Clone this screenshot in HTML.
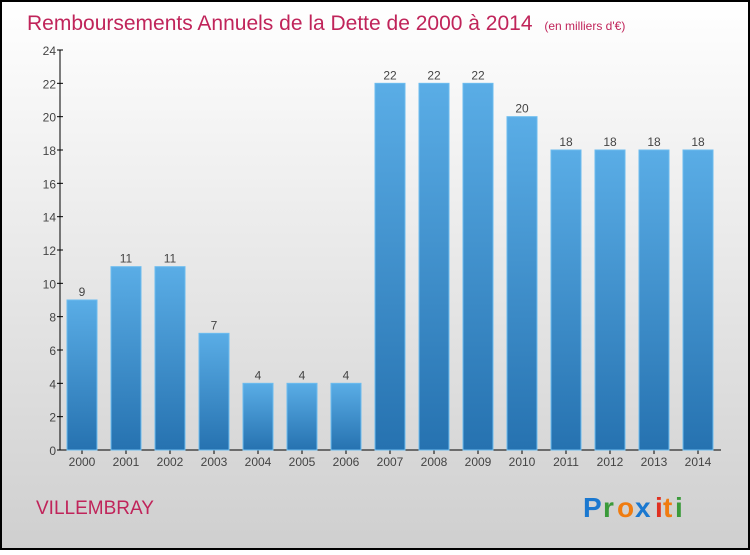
<!DOCTYPE html>
<html><head><meta charset="utf-8"><style>
body{margin:0}
svg text{font-family:"Liberation Sans",sans-serif}
</style></head><body>
<svg width="750" height="550" xmlns="http://www.w3.org/2000/svg">
<defs>
<linearGradient id="bg" x1="0" y1="0" x2="0" y2="1"><stop offset="0" stop-color="#ffffff"/><stop offset="1" stop-color="#cfcfcf"/></linearGradient>
<linearGradient id="bar" x1="0" y1="0" x2="0" y2="1"><stop offset="0" stop-color="#5aade6"/><stop offset="1" stop-color="#2672b0"/></linearGradient>
</defs>
<rect x="1" y="1" width="748" height="548" fill="url(#bg)" stroke="#000" stroke-width="2"/>
<text x="27" y="30" font-size="21" fill="#c0245a">Remboursements Annuels de la Dette de 2000 à 2014 <tspan font-size="12" dx="6">(en milliers d'€)</tspan></text>
<text x="36" y="514" font-size="19" fill="#c0245a">VILLEMBRAY</text>
<g font-size="28" font-weight="bold">
<text x="583" y="517" fill="#1a78d0">P</text><text x="603" y="517" fill="#3a9a3a">r</text><text x="617" y="517" fill="#f07c10">o</text><text x="635" y="517" fill="#1a78d0">x</text><text x="655" y="517" fill="#e03020">i</text><text x="663" y="517" fill="#f07c10">t</text><text x="675" y="517" fill="#3a9a3a">i</text>
</g>
<g id="axes"></g>
<g id="bars"></g>
</svg>
<script>
const years=["2000","2001","2002","2003","2004","2005","2006","2007","2008","2009","2010","2011","2012","2013","2014"];
const values=[9,11,11,7,4,4,4,22,22,22,20,18,18,18,18];
const yTicks=[0,2,4,6,8,10,12,14,16,18,20,22,24];
const NS="http://www.w3.org/2000/svg";
const y0=450,yMax=24,plotH=400,x0=82,step=44,bw=30;
const ys=v=>y0-v/yMax*plotH, xs=i=>x0+i*step;
function mk(t,a,p){const e=document.createElementNS(NS,t);for(const k in a)e.setAttribute(k,a[k]);p.appendChild(e);return e;}
const ax=document.getElementById('axes'),bg=document.getElementById('bars');
let l=mk('line',{x1:60,y1:50,x2:60,y2:450,stroke:'#000'},ax);


l=mk('line',{x1:60,y1:450,x2:721,y2:450,stroke:'#000'},ax);


yTicks.forEach(v=>{
 const t=mk('line',{x1:57,x2:63,y1:ys(v),y2:ys(v),stroke:'#000'},ax);
 
 
 const tx=mk('text',{x:56,y:ys(v)+5,'text-anchor':'end','font-size':12,fill:'#444'},ax);tx.textContent=v;
 
 
});
values.forEach((v,i)=>{
 const r=mk('rect',{x:xs(i)-bw/2,y:ys(v),width:bw,height:y0-ys(v),fill:'url(#bar)',stroke:'#6cbcef','stroke-width':1},bg);
 
 
 const t=mk('text',{x:xs(i),y:ys(v)-4,'text-anchor':'middle','font-size':12,fill:'#444'},bg);t.textContent=v;
 
 
 const k=mk('line',{x1:xs(i),x2:xs(i),y1:450,y2:454,stroke:'#000'},ax);
 
 
 const xl=mk('text',{x:xs(i),y:466,'text-anchor':'middle','font-size':12,fill:'#444'},ax);xl.textContent=years[i];
 
 
});
</script>
</body></html>
